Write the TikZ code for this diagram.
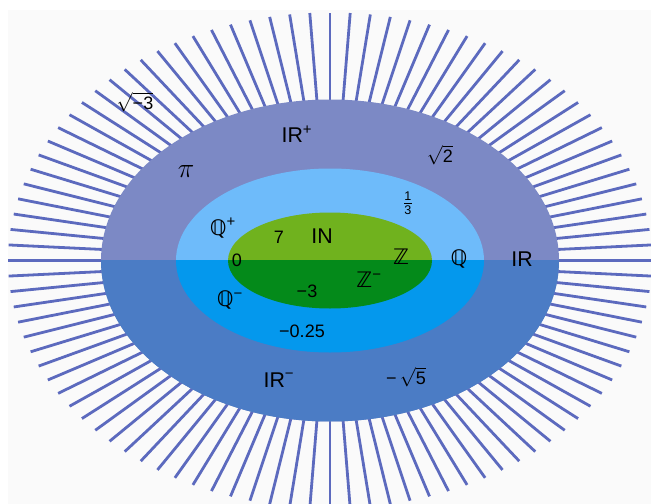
\documentclass[tikz,border=0pt]{standalone}
\usepackage{amsmath}
\usepackage{graphicx}
\usepackage{fontspec}
\setmainfont{Liberation Sans}
\newfontfamily\dvs{DejaVu Sans}
\definecolor{bgc}{RGB}{250,250,250}
\definecolor{raycol}{RGB}{92,106,190}
\definecolor{Rup}{RGB}{124,137,197}
\definecolor{Rdn}{RGB}{75,124,197}
\definecolor{Qup}{RGB}{110,187,250}
\definecolor{Qdn}{RGB}{4,152,237}
\definecolor{Zup}{RGB}{112,178,30}
\definecolor{Zdn}{RGB}{4,138,26}
\begin{document}
\begin{tikzpicture}[x=0.75pt,y=0.75pt,
  setlbl/.style={inner sep=0pt, font=\fontsize{16}{18}\selectfont},
  numlbl/.style={inner sep=0pt, font=\fontsize{13.5}{16}\selectfont},
  raystyle/.style={draw=raycol, line width=2.1pt}]
\useasboundingbox (0,0) rectangle (651,-504);
\fill[bgc] (8,-10) rectangle (651,-504);
\coordinate (c) at (330,-260.5);
% rays
\begin{scope}
\clip (0,0) rectangle (651,-504);
\foreach \k in {0,...,99}
  \draw[raystyle] (c) -- ++({322*cos(3.6*\k)},{248*sin(3.6*\k)});
\end{scope}
% upper halves
\fill[Rup] (c) ellipse [x radius=229, y radius=161];
\fill[Qup] (c) ellipse [x radius=154, y radius=92];
\fill[Zup] (c) ellipse [x radius=102, y radius=48];
% lower halves
\begin{scope}
\clip (0,-260.5) rectangle (651,-504);
\fill[Rdn] (c) ellipse [x radius=229, y radius=161];
\fill[Qdn] (c) ellipse [x radius=154, y radius=92];
\fill[Zdn] (c) ellipse [x radius=102, y radius=48];
\end{scope}
% labels
\node[numlbl] (sqm3) at (135,-102) {$\sqrt{\text{−3}}$};
\node[setlbl] (Rp) at (297,-134) {IR\textsuperscript{+}};
\node[numlbl] (pi) at (186,-172) {\scalebox{1.45}{$\pi$}};
\node[numlbl] (sq2) at (440,-155) {$\sqrt{\text{2}}$};
\node[numlbl] (third) at (408,-203) {$\frac{\text{1}}{\text{3}}$};
\node[setlbl] (Qp) at (223,-228) {{\dvs ℚ}\textsuperscript{+}};
\node[numlbl] (seven) at (279,-237) {7};
\node[setlbl] (N) at (322,-236) {IN};
\node[numlbl] (zero) at (237,-260) {0};
\node[setlbl] (Z) at (401,-257) {\dvs ℤ};
\node[setlbl] (Q) at (459,-259) {\dvs ℚ};
\node[setlbl] (R) at (522,-259) {IR};
\node[setlbl] (Zm) at (369,-280) {{\dvs ℤ}\textsuperscript{−}};
\node[numlbl] (m3) at (307,-291) {−3};
\node[setlbl] (Qm) at (230,-300) {{\dvs ℚ}\textsuperscript{−}};
\node[numlbl] (m025) at (302,-331) {−0.25};
\node[setlbl] (Rm) at (279,-380) {IR\textsuperscript{−}};
\node[numlbl] (msq5) at (406,-377) {−\,$\sqrt{\text{5}}$};
\end{tikzpicture}
\end{document}
